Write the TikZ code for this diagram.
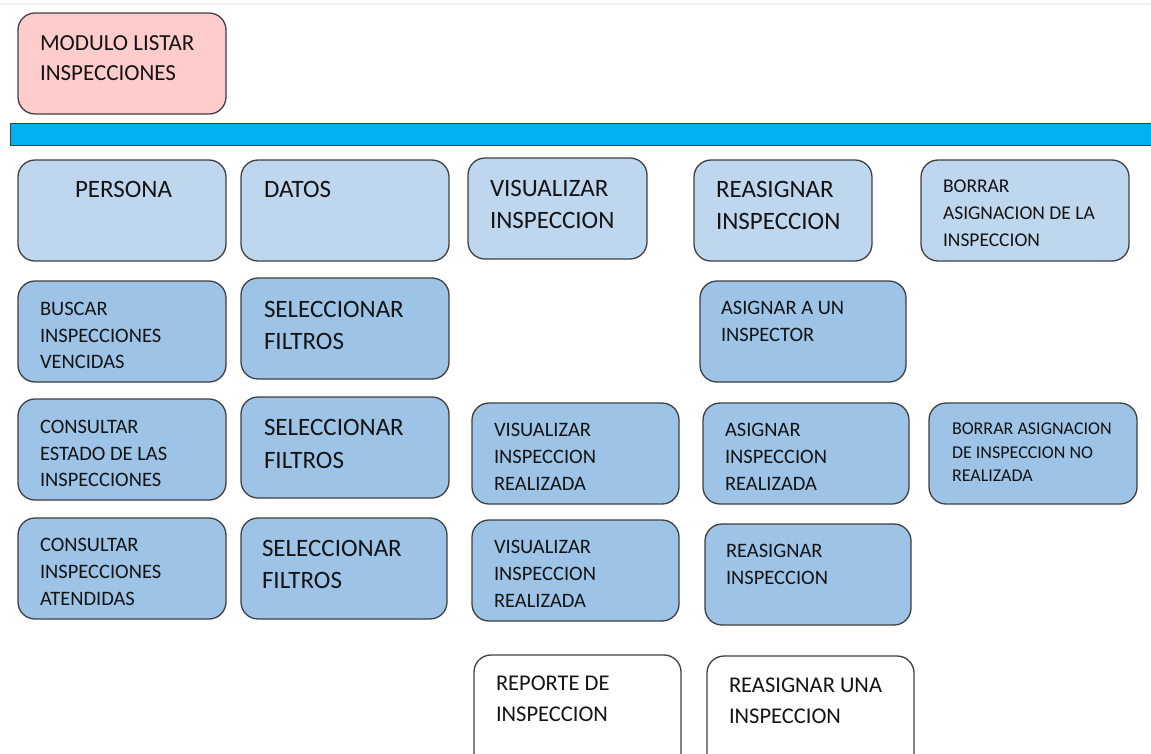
\documentclass[tikz,border=0pt]{standalone}
\usepackage{fontspec}
\setmainfont{Carlito}
\definecolor{pinkfill}{RGB}{255,204,204}
\definecolor{paleblue}{RGB}{190,214,238}
\definecolor{midblue}{RGB}{157,195,230}
\definecolor{barblue}{RGB}{0,176,240}
\definecolor{edge}{RGB}{64,64,64}
\definecolor{ink}{RGB}{20,20,20}
\newcommand\fsz[2]{\fontsize{#1}{#2}\selectfont}
\tikzset{
  card/.style={draw=edge, line width=1.3pt, rounded corners=17pt, anchor=north west,
               inner sep=0pt, outer sep=0pt},
  pinkcard/.style={card, fill=pinkfill},
  palecard/.style={card, fill=paleblue},
  bluecard/.style={card, fill=midblue},
  whitecard/.style={card, fill=white},
  label/.style={anchor=north west, inner sep=0pt, outer sep=0pt, align=left, text=ink},
}
\begin{document}
\begin{tikzpicture}[x=1pt,y=-1pt]
\useasboundingbox (0,0) rectangle (1151,753);
\clip (0,0) rectangle (1151,753);
\fill[white] (0,0) rectangle (1151,753);
% faint rule along the top edge
\draw[line width=2pt, black!6] (0,4) -- (1151,4);

% title card
\node[pinkcard, minimum width=208pt, minimum height=101pt] (mod) at (18,13) {};
\node[label, font=\fsz{23}{30}] (modt) at (40,35.5) {MODULO LISTAR\\INSPECCIONES};

% separator bar
\node[draw=edge, line width=1.2pt, fill=barblue, anchor=north west, inner sep=0pt,
      minimum width=1160pt, minimum height=22pt] (bar) at (10,123) {};

% first row
\node[palecard, minimum width=208pt, minimum height=101pt] (persona) at (18,160) {};
\node[label, font=\fsz{25}{32}] (personat) at (75,181) {PERSONA};
\node[palecard, minimum width=208pt, minimum height=101pt] (datos) at (241,160) {};
\node[label, font=\fsz{25}{32}] (datost) at (264,181) {DATOS};
\node[palecard, minimum width=179pt, minimum height=101pt] (visu) at (468,158) {};
\node[label, font=\fsz{25}{32}] (visut) at (490,180) {VISUALIZAR\\INSPECCION};
\node[palecard, minimum width=178pt, minimum height=101pt] (reas) at (694,160) {};
\node[label, font=\fsz{25}{32}] (reast) at (716,181) {REASIGNAR\\INSPECCION};
\node[palecard, minimum width=208pt, minimum height=101pt] (borr) at (921,160) {};
\node[label, font=\fsz{19.5}{27}] (borrt) at (943,179.5) {BORRAR\\ASIGNACION DE LA\\INSPECCION};

% second row
\node[bluecard, minimum width=208pt, minimum height=101pt] (busc) at (18,281) {};
\node[label, font=\fsz{20.5}{26.5}] (busct) at (40,302.4) {BUSCAR\\INSPECCIONES\\VENCIDAS};
\node[bluecard, minimum width=208pt, minimum height=101pt] (selA) at (241,278) {};
\node[label, font=\fsz{25}{32}] (selAt) at (264,301) {SELECCIONAR\\FILTROS};
\node[bluecard, minimum width=206pt, minimum height=101pt] (asigA) at (700,281) {};
\node[label, font=\fsz{20.5}{27}] (asigAt) at (721,301.4) {ASIGNAR A UN\\INSPECTOR};

% third row
\node[bluecard, minimum width=208pt, minimum height=101pt] (cons) at (18,399) {};
\node[label, font=\fsz{20.5}{26.5}] (const) at (40,420.4) {CONSULTAR\\ESTADO DE LAS\\INSPECCIONES};
\node[bluecard, minimum width=208pt, minimum height=101pt] (selB) at (241,397) {};
\node[label, font=\fsz{25}{33}] (selBt) at (264,419) {SELECCIONAR\\FILTROS};
\node[bluecard, minimum width=207pt, minimum height=101pt] (visA) at (472,403) {};
\node[label, font=\fsz{20.5}{27}] (visAt) at (494,423.4) {VISUALIZAR\\INSPECCION\\REALIZADA};
\node[bluecard, minimum width=206pt, minimum height=101pt] (asigB) at (703,403) {};
\node[label, font=\fsz{20.5}{27}] (asigBt) at (725,423.4) {ASIGNAR\\INSPECCION\\REALIZADA};
\node[bluecard, minimum width=208pt, minimum height=101pt] (borrB) at (929,403) {};
\node[label, font=\fsz{18}{23.5}] (borrBt) at (952,423) {BORRAR ASIGNACION\\DE INSPECCION NO\\REALIZADA};

% fourth row
\node[bluecard, minimum width=208pt, minimum height=101pt] (aten) at (18,518) {};
\node[label, font=\fsz{20.5}{27}] (atent) at (40,538.4) {CONSULTAR\\INSPECCIONES\\ATENDIDAS};
\node[bluecard, minimum width=206pt, minimum height=101pt] (selC) at (241,518) {};
\node[label, font=\fsz{25}{32}] (selCt) at (262,540) {SELECCIONAR\\FILTROS};
\node[bluecard, minimum width=207pt, minimum height=101pt] (visB) at (472,520) {};
\node[label, font=\fsz{20.5}{27}] (visBt) at (494,540.4) {VISUALIZAR\\INSPECCION\\REALIZADA};
\node[bluecard, minimum width=206pt, minimum height=101pt] (reasB) at (705,524) {};
\node[label, font=\fsz{20.5}{27}] (reasBt) at (726,544.4) {REASIGNAR\\INSPECCION};

% fifth row (runs past the lower edge)
\node[whitecard, minimum width=207pt, minimum height=115pt] (rep) at (474,655) {};
\node[label, font=\fsz{22.5}{31}] (rept) at (496,675.8) {REPORTE DE\\INSPECCION};
\node[whitecard, minimum width=207pt, minimum height=115pt] (reasC) at (707,656) {};
\node[label, font=\fsz{22.5}{31}] (reasCt) at (729,677.8) {REASIGNAR UNA\\INSPECCION};
\end{tikzpicture}
\end{document}
